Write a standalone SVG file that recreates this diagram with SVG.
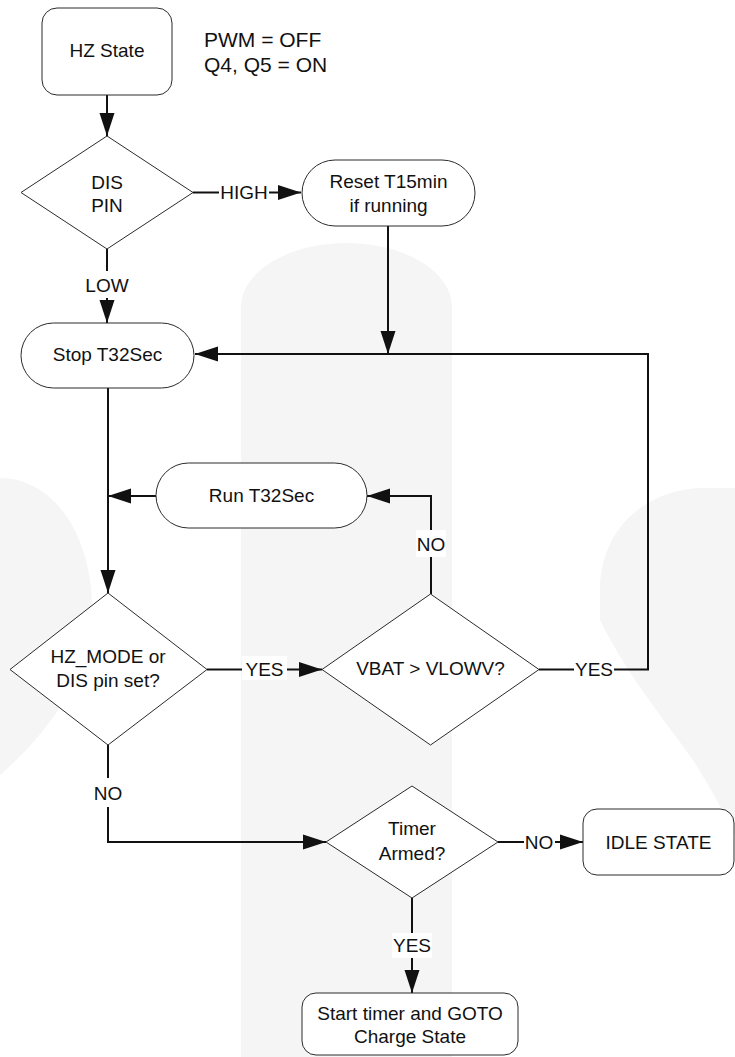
<svg xmlns="http://www.w3.org/2000/svg" width="735" height="1057" viewBox="0 0 735 1057">
<style>
.shape{fill:#fff;stroke:#2b2b2b;stroke-width:1}
.t{font-family:"Liberation Sans",Arial,sans-serif;font-size:19px;fill:#111;text-anchor:middle}
.note{font-family:"Liberation Sans",Arial,sans-serif;font-size:21px;fill:#111}
.c{fill:none;stroke:#111;stroke-width:2}
.bg{fill:#fff}
.wm{fill:#f5f5f5}
</style>
<defs>
<marker id="ah" markerUnits="userSpaceOnUse" markerWidth="23" markerHeight="16" refX="23" refY="8" orient="auto"><path d="M0,0.5 L23,8 L0,15.5 Z" fill="#111"/></marker>
</defs>
<rect width="735" height="1057" fill="#fff"/>
<g id="watermark">
<path class="wm" d="M241,1057 V307 C241,272 288,243 346.5,243 C405,243 452,272 452,307 V1057 Z"/>
<path class="wm" d="M735,488 H705 C645,488 600,530 600,590 V620 C630,680 665,720 693,760 C712,790 725,815 735,835 Z"/>
<path class="wm" d="M0,478 C50,478 92,530 92,610 C92,680 40,740 0,775 Z"/>
</g>
<g id="connectors">
<path class="c" d="M107,95 V136" marker-end="url(#ah)"/>
<path class="c" d="M193,192.5 H301" marker-end="url(#ah)"/>
<path class="c" d="M107,249 V323" marker-end="url(#ah)"/>
<path class="c" d="M388,226 V354" marker-end="url(#ah)"/>
<path class="c" d="M539,669.5 H648 V354 H195" marker-end="url(#ah)"/>
<path class="c" d="M108,388 V593" marker-end="url(#ah)"/>
<path class="c" d="M156,496 H108" marker-end="url(#ah)"/>
<path class="c" d="M431,594 V496 H367" marker-end="url(#ah)"/>
<path class="c" d="M207,669.5 H322" marker-end="url(#ah)"/>
<path class="c" d="M108,745 V842 H326" marker-end="url(#ah)"/>
<path class="c" d="M498,842 H583" marker-end="url(#ah)"/>
<path class="c" d="M412,898 V993" marker-end="url(#ah)"/>
<rect class="bg" x="219" y="181" width="50" height="24"/><text class="t" x="244" y="199">HIGH</text>
<rect class="bg" x="86" y="271" width="43" height="27"/><text class="t" x="107" y="292">LOW</text>
<rect class="bg" x="574" y="657" width="40" height="25"/><text class="t" x="594" y="676">YES</text>
<rect class="bg" x="416" y="530" width="30" height="27"/><text class="t" x="431" y="551">NO</text>
<rect class="bg" x="242" y="656" width="45" height="24"/><text class="t" x="264.5" y="676">YES</text>
<rect class="bg" x="92" y="778" width="32" height="29"/><text class="t" x="108" y="800">NO</text>
<rect class="bg" x="524" y="830" width="31" height="25"/><text class="t" x="539" y="849">NO</text>
<rect class="bg" x="392" y="933" width="40" height="25"/><text class="t" x="412" y="952">YES</text>
</g>
<g id="hz-state"><rect class="shape" x="42" y="8" width="130" height="87" rx="15"/><text class="t" x="107" y="57">HZ State</text></g>
<g id="note"><text class="note" x="204" y="47">PWM = OFF</text><text class="note" x="204" y="72">Q4, Q5 = ON</text></g>
<g id="dis-pin"><polygon class="shape" points="107,136 193,192.5 107,249 21,192.5"/><text class="t" x="107" y="189">DIS</text><text class="t" x="107" y="212">PIN</text></g>
<g id="reset"><rect class="shape" x="302" y="160" width="173" height="66" rx="33"/><text class="t" x="388.5" y="188">Reset T15min</text><text class="t" x="388.5" y="212">if running</text></g>
<g id="stop"><rect class="shape" x="21" y="323" width="173" height="65" rx="32.5"/><text class="t" x="107.5" y="361">Stop T32Sec</text></g>
<g id="run"><rect class="shape" x="156" y="463" width="211" height="65" rx="32.5"/><text class="t" x="261.5" y="502">Run T32Sec</text></g>
<g id="hz-mode"><polygon class="shape" points="108,593 207,669.5 108,745 10,669.5"/><text class="t" x="108" y="663">HZ_MODE or</text><text class="t" x="108" y="687">DIS pin set?</text></g>
<g id="vbat"><polygon class="shape" points="430.5,594 539,669.5 430.5,745 322,669.5"/><text class="t" x="430.5" y="675">VBAT &gt; VLOWV?</text></g>
<g id="timer"><polygon class="shape" points="412,786 498,842 412,898 326,842"/><text class="t" x="412" y="835">Timer</text><text class="t" x="412" y="860">Armed?</text></g>
<g id="idle"><rect class="shape" x="583" y="809" width="151" height="66" rx="14"/><text class="t" x="658.5" y="849">IDLE STATE</text></g>
<g id="start"><rect class="shape" x="302" y="993" width="216" height="62" rx="14"/><text class="t" x="410" y="1020">Start timer and GOTO</text><text class="t" x="410" y="1043">Charge State</text></g>
</svg>
